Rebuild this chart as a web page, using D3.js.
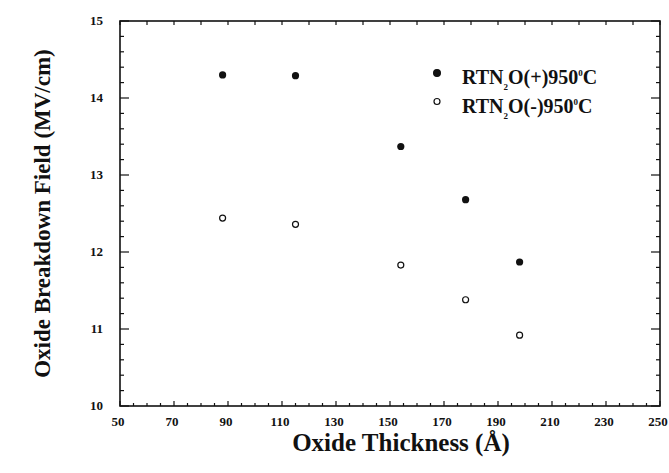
<!DOCTYPE html>
<html lang="en">
<head>
<meta charset="UTF-8">
<title>Oxide Breakdown Field vs Thickness</title>
<style>
body { margin: 0; background: #fff; overflow: hidden; }
text { font-family: "Liberation Serif", "DejaVu Serif", serif; font-weight: bold; fill: #111; }
.tick-label { font-size: 13px; }
.x-title { font-size: 25px; }
.y-title { font-size: 23px; }
.legend { font-size: 20px; }
</style>
</head>
<body>
<svg></svg>
<script src="https://cdn.jsdelivr.net/npm/d3@7"></script>
<script>
// data
const thickness = [88, 115, 154, 178, 198];
const fieldPlus = [14.30, 14.29, 13.37, 12.68, 11.87];   // RTN2O(+) 950C, filled
const fieldMinus = [12.44, 12.36, 11.83, 11.38, 10.92];  // RTN2O(-) 950C, open
const xTickValues = [50, 70, 90, 110, 130, 150, 170, 190, 210, 230, 250];
const yTickValues = [10, 11, 12, 13, 14, 15];

const width = 669, height = 473;
const margin = {top: 21, right: 9, bottom: 67, left: 120};

const svg = d3.select("svg")
    .attr("width", width)
    .attr("height", height);

const x = d3.scaleLinear().domain([50, 250]).range([margin.left, width - margin.right]);
const y = d3.scaleLinear().domain([10, 15]).range([height - margin.bottom, margin.top]);

const x0 = x.range()[0], x1 = x.range()[1];
const y0 = y.range()[0], y1 = y.range()[1];

// frame
svg.append("rect")
    .attr("x", x0).attr("y", y1)
    .attr("width", x1 - x0).attr("height", y0 - y1)
    .attr("fill", "none").attr("stroke", "#111").attr("stroke-width", 1.6);

// inward ticks on all four sides
const ticks = svg.append("g").attr("stroke", "#111").attr("stroke-width", 1.2);

d3.range(50, 251, 5).forEach(v => {
    const len = v % 20 === 10 ? 5 : 3;
    ticks.append("line").attr("x1", x(v)).attr("x2", x(v)).attr("y1", y0).attr("y2", y0 - len);
});
d3.range(50, 251, 10).forEach(v => {
    ticks.append("line").attr("x1", x(v)).attr("x2", x(v)).attr("y1", y1).attr("y2", y1 + 4);
});
d3.range(0, 26).forEach(i => {
    const v = 10 + i * 0.2;
    const major = i % 5 === 0;
    ticks.append("line").attr("x1", x0).attr("x2", x0 + (major ? 9 : 4)).attr("y1", y(v)).attr("y2", y(v));
    ticks.append("line").attr("x1", x1).attr("x2", x1 - (major ? 9 : 4)).attr("y1", y(v)).attr("y2", y(v));
});

// tick labels
svg.append("g").selectAll("text")
    .data(xTickValues)
    .join("text")
    .attr("class", "tick-label")
    .attr("x", d => x(d) - 2)
    .attr("y", y0 + 20)
    .attr("text-anchor", "middle")
    .text(d => d);

svg.append("g").selectAll("text")
    .data(yTickValues)
    .join("text")
    .attr("class", "tick-label")
    .attr("x", x0 - 17)
    .attr("y", d => y(d) + 4)
    .attr("text-anchor", "end")
    .text(d => d);

// axis titles
svg.append("text")
    .attr("class", "x-title")
    .attr("x", 401)
    .attr("y", 451)
    .attr("text-anchor", "middle")
    .text("Oxide Thickness (\u00C5)");

svg.append("text")
    .attr("class", "y-title")
    .attr("transform", `translate(50,${(y0 + y1) / 2}) rotate(-90)`)
    .attr("text-anchor", "middle")
    .text("Oxide Breakdown Field (MV/cm)");

// points
svg.append("g").selectAll("circle")
    .data(thickness.map((t, i) => [t, fieldPlus[i]]))
    .join("circle")
    .attr("cx", d => x(d[0]))
    .attr("cy", d => y(d[1]))
    .attr("r", 3.6)
    .attr("fill", "#111");

svg.append("g").selectAll("circle")
    .data(thickness.map((t, i) => [t, fieldMinus[i]]))
    .join("circle")
    .attr("cx", d => x(d[0]))
    .attr("cy", d => y(d[1]))
    .attr("r", 3)
    .attr("fill", "#fff")
    .attr("stroke", "#111")
    .attr("stroke-width", 1.2);

// legend
const legendItems = [
    {sign: "(+)", filled: true},
    {sign: "(-)", filled: false}
];
const legend = svg.append("g");
legendItems.forEach((d, i) => {
    const ly = 73 + i * 28.5;
    legend.append("circle")
        .attr("cx", 437).attr("cy", ly)
        .attr("r", d.filled ? 3.4 : 3)
        .attr("fill", d.filled ? "#111" : "#fff")
        .attr("stroke", "#111").attr("stroke-width", 1.2);
    const t = legend.append("text")
        .attr("class", "legend")
        .attr("x", 462).attr("y", ly + 11);
    t.append("tspan").text("RTN");
    t.append("tspan").attr("font-size", 9).attr("dy", 6).text("2");
    t.append("tspan").attr("dy", -6).text("O" + d.sign + "950");
    t.append("tspan").attr("font-size", 9).attr("dy", -8).text("0");
    t.append("tspan").attr("dy", 8).text("C");
});
</script>
</body>
</html>
